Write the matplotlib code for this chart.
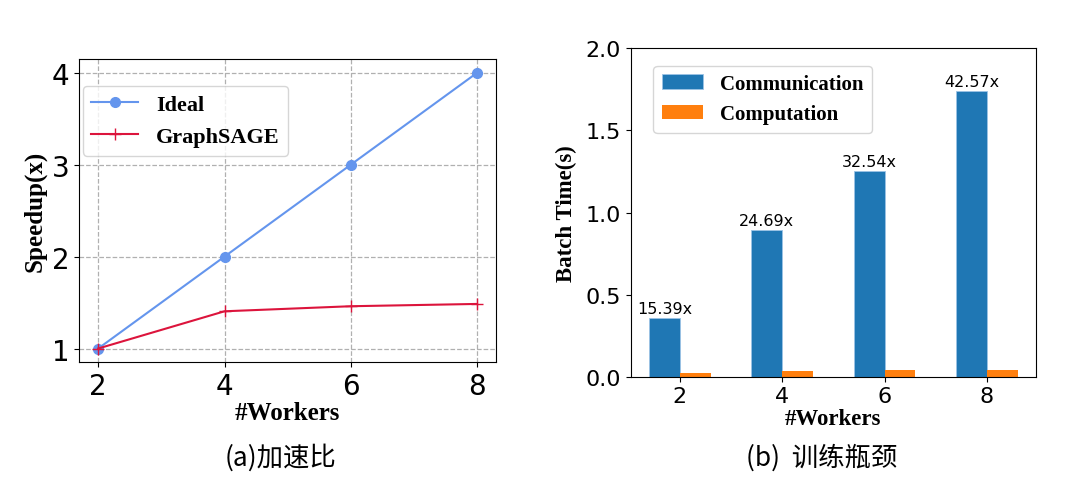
import numpy as np
import matplotlib
matplotlib.use('Agg')
import matplotlib.pyplot as plt

# data
workers = [2, 4, 6, 8]
ideal_speedup = [1, 2, 3, 4]
graphsage_speedup = [1.0, 1.405, 1.46, 1.485]

comm_time = [0.359, 0.893, 1.255, 1.742]
comp_time = [0.0234, 0.0362, 0.0386, 0.0409]
ratio_labels = ['15.39x', '24.69x', '32.54x', '42.57x']

SERIF = 'Liberation Serif'
CJK = ['Noto Sans CJK SC', 'DejaVu Sans']

fig = plt.figure(figsize=(10.8, 5.02), dpi=100)

# (a) speedup
ax1 = fig.add_axes([0.0734, 0.2763, 0.3859, 0.6042])
ax1.plot(workers, ideal_speedup, 'o-', color='#6495ED', linewidth=1.5,
         markersize=7, label='Ideal')
ax1.plot(workers, graphsage_speedup, '+-', color='#DC143C', linewidth=1.5,
         markersize=8, label='GraphSAGE')
ax1.set_xticks(workers)
ax1.set_yticks([1, 2, 3, 4])
ax1.tick_params(labelsize=20)
ax1.grid(True, linestyle='--', color='#b0b0b0', linewidth=0.9)
ax1.set_xlabel('#Workers', fontsize=18, fontweight='bold', family=SERIF, labelpad=1)
ax1.set_ylabel('Speedup(x)', fontsize=18, fontweight='bold', family=SERIF, labelpad=4)
ax1.legend(loc='upper left', bbox_to_anchor=(0.008, 0.912), borderaxespad=0,
           prop={'family': SERIF, 'weight': 'bold', 'size': 16},
           handlelength=2.1)

# (b) bottleneck
ax2 = fig.add_axes([0.584, 0.2476, 0.3753, 0.6542])
x = np.arange(len(workers))
w = 0.3
bars = ax2.bar(x - w / 2, comm_time, w, color='#1f77b4', edgecolor='#9cc3e6',
               linewidth=0.6, label='Communication')
ax2.bar(x + w / 2, comp_time, w, color='#ff7f0e', label='Computation')
for b, lab in zip(bars, ratio_labels):
    ax2.text(b.get_x() + b.get_width() / 2, b.get_height() + 0.01, lab,
             ha='center', va='bottom', fontsize=11.5)
ax2.set_xticks(x)
ax2.set_xticklabels([str(v) for v in workers])
ax2.set_ylim(0, 2.0)
ax2.set_yticks([0.0, 0.5, 1.0, 1.5, 2.0])
ax2.tick_params(labelsize=16)
ax2.set_xlabel('#Workers', fontsize=16.5, fontweight='bold', family=SERIF, labelpad=1)
ax2.set_ylabel('Batch Time(s)', fontsize=16.5, fontweight='bold', family=SERIF, labelpad=6)
ax2.legend(loc='upper left', bbox_to_anchor=(0.0558, 0.947), borderaxespad=0,
           prop={'family': SERIF, 'weight': 'bold', 'size': 15},
           handlelength=2.0)

fig.text(0.260, 1 - 458 / 502, '(a)加速比', ha='center', va='center',
         fontsize=19, fontweight='light', family=CJK)
fig.text(0.761, 1 - 458 / 502, '(b)  训练瓶颈', ha='center', va='center',
         fontsize=19, fontweight='light', family=CJK)

fig.savefig('out.png', dpi=100)
